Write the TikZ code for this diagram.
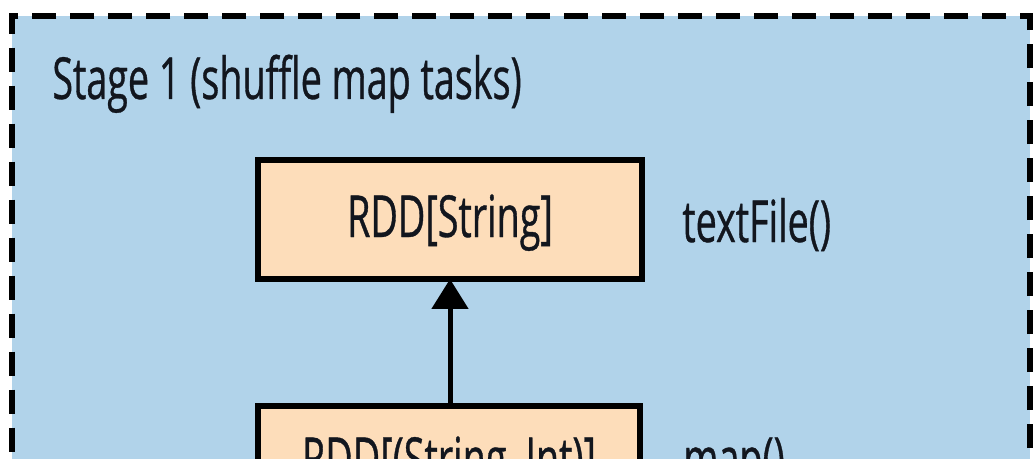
\documentclass[tikz,border=0pt]{standalone}
\usepackage{fontspec}
\setmainfont{Open Sans}[FakeStretch=0.65,FakeBold=0.6]
\usetikzlibrary{arrows.meta}
\definecolor{stageblue}{RGB}{177,211,234}
\definecolor{rddpeach}{RGB}{253,221,186}
\definecolor{inkdark}{RGB}{18,22,30}
\tikzset{
  rddbox/.style={draw=black, fill=rddpeach, line width=0.12cm},
  lbl/.style={inner sep=0pt, anchor=base west, text=inkdark, font=\fontsize{33}{40}\selectfont},
  lblc/.style={lbl, anchor=base},
  flow/.style={line width=0.1cm, -{Triangle[width=0.72cm,length=0.6cm]}}
}
\begin{document}
\begin{tikzpicture}[x=0.02cm,y=-0.02cm]
\useasboundingbox (0,0) rectangle (1033,459);
\fill[white] (0,0) rectangle (1033,459);
\clip (0,0) rectangle (1033,459);
% stage area
\draw[fill=stageblue, line width=0.12cm, dash pattern=on 0.48cm off 0.28cm] (1030,600) -- (1030,16) -- (12,16) -- (12,600);
\node[lbl] (title) at (52,99) {Stage 1 (shuffle map tasks)};
% boxes
\draw[rddbox] (258,160) rectangle (642,279);
\coordinate (b1top) at (450,160);
\coordinate (b1bot) at (450,279);
\node[lblc] (t1) at (450,237) {RDD[String]};
\node[lbl] (op1) at (682,242) {textFile()};
\draw[rddbox] (258,406) rectangle (640,560);
\coordinate (b2top) at (450,406);
\node[lblc] (t2) at (449,479) {RDD[(String, Int)]};
\node[lbl] (op2) at (683,479) {map()};
\draw[flow] (b2top) -- (b1bot);
\end{tikzpicture}
\end{document}
